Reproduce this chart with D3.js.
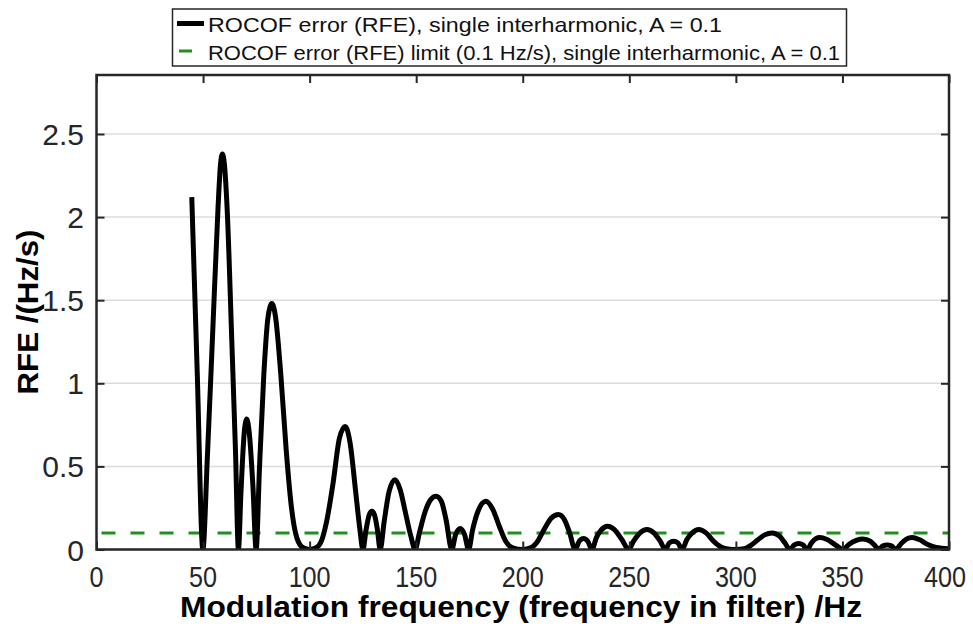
<!DOCTYPE html>
<html>
<head>
<meta charset="utf-8">
<script src="https://cdn.jsdelivr.net/npm/d3@7"></script>
<style>
  body { margin: 0; background: #fff; }
  svg { display: block; font-family: "Liberation Sans", Arial, sans-serif; }
</style>
</head>
<body>
<svg id="chart" width="973" height="633"></svg>
<script>
// values
const rfeFreq = [44.7, 47.3, 49.9, 52, 54.5, 57, 58.2, 59.1, 60, 61.3, 63.5, 65.2, 66.6,
  67.8, 69.3, 70.5, 71.7, 73.4, 74.9, 76.5, 78.5, 80.5, 82.3, 84, 86.5, 89, 91.5, 94, 97,
  100, 103, 105.5, 108, 111, 114, 116.7, 119, 121.5, 123.5, 125, 126.5, 128, 129.2, 130.4,
  131.8, 133.1, 135, 137.3, 140.1, 142.5, 145, 147.5, 149.5, 151.5, 154, 156.8, 159.3,
  161.8, 164, 166.7, 168.5, 170.7, 172.7, 174.6, 176.5, 179, 182.7, 186, 189, 192, 195,
  200, 204, 207, 210, 213.5, 216.8, 219.5, 222, 224.6, 226.5, 228.5, 230.5, 232.5, 234.5,
  237, 239.8, 243, 246.5, 249.7, 252, 255, 258.3, 261.5, 264.5, 266.9, 268.8, 270.8, 272.8,
  274.8, 277, 279.5, 282.6, 286, 289.5, 293, 297, 300, 304, 307, 310, 313.5, 317, 320.5,
  323, 325.3, 327.4, 329.5, 331.5, 333.4, 335.5, 337.5, 339.4, 342.5, 346.5, 350.3, 353,
  356.5, 359.7, 363, 365.5, 367, 369, 371, 373, 375, 377.5, 380, 382.7, 386, 390, 394, 400];
const rfeValue = [2.12, 1.05, 0, 0.55, 1.3, 2.05, 2.32, 2.38, 2.32, 2.05, 1.25, 0.6, 0,
  0.35, 0.7, 0.785, 0.7, 0.38, 0, 0.5, 1.05, 1.4, 1.48, 1.4, 1.05, 0.6, 0.25, 0.07, 0.01,
  0, 0.01, 0.05, 0.17, 0.4, 0.67, 0.74, 0.64, 0.36, 0.13, 0, 0.12, 0.21, 0.23, 0.21,
  0.12, 0, 0.17, 0.35, 0.42, 0.36, 0.22, 0.08, 0, 0.1, 0.22, 0.3, 0.32,
  0.29, 0.18, 0, 0.09, 0.126, 0.09, 0, 0.12, 0.23, 0.29, 0.24, 0.14, 0.05, 0.012,
  0, 0.012, 0.05, 0.12, 0.19, 0.21, 0.18, 0.1, 0, 0.05, 0.066, 0.05, 0, 0.07,
  0.12, 0.14, 0.12, 0.06, 0, 0.05, 0.1, 0.12, 0.1, 0.05, 0, 0.04, 0.05, 0.04,
  0, 0.06, 0.1, 0.12, 0.1, 0.05, 0.015, 0.002, 0, 0.005, 0.025, 0.055, 0.088, 0.1, 0.08,
  0.04, 0, 0.028, 0.036, 0.028, 0, 0.04, 0.065, 0.072, 0.062, 0.03, 0, 0.03,
  0.055, 0.063, 0.05, 0.02, 0, 0.022, 0.027, 0.022, 0, 0.035, 0.062, 0.072, 0.06, 0.03, 0.012, 0.005];
const rfeLimit = 0.1;
const xTicks = [0, 50, 100, 150, 200, 250, 300, 350, 400];
const yTicks = [0, 0.5, 1, 1.5, 2, 2.5];
const legendLabels = ["ROCOF error (RFE), single interharmonic, A = 0.1",
  "ROCOF error (RFE) limit (0.1 Hz/s), single interharmonic, A = 0.1"];
const xLabel = "Modulation frequency (frequency in filter) /Hz";
const yLabel = "RFE /(Hz/s)";

const svg = d3.select("#chart");
const box = { left: 96.5, right: 949, top: 75, bottom: 549.5 };

const x = d3.scaleLinear().domain([0, 400]).range([box.left, box.right]);
const y = d3.scaleLinear().domain([0, 2.855]).range([box.bottom, box.top]);

// horizontal grid
svg.append("g")
  .selectAll("line")
  .data(yTicks.filter(d => d > 0))
  .join("line")
  .attr("x1", box.left).attr("x2", box.right)
  .attr("y1", d => y(d)).attr("y2", d => y(d))
  .attr("stroke", "#dcdcdc").attr("stroke-width", 1.5);

// clip for the curves
svg.append("clipPath").attr("id", "plotClip")
  .append("rect")
  .attr("x", box.left).attr("y", box.top)
  .attr("width", box.right - box.left).attr("height", box.bottom - box.top);

const plot = svg.append("g").attr("clip-path", "url(#plotClip)");

// limit line
plot.append("line")
  .attr("x1", x(0)).attr("x2", x(400))
  .attr("y1", y(rfeLimit)).attr("y2", y(rfeLimit))
  .attr("stroke", "#1f8f1f").attr("stroke-width", 3)
  .attr("stroke-dasharray", "14,15")
  .attr("stroke-dashoffset", -5);

const pts = rfeFreq.map((f, i) => [f, rfeValue[i]]);
const line = d3.line()
  .x(d => x(d[0]))
  .y(d => y(d[1]))
  .curve(d3.curveMonotoneX);

plot.append("path")
  .datum(pts)
  .attr("d", line)
  .attr("fill", "none")
  .attr("stroke", "#000")
  .attr("stroke-width", 5)
  .attr("stroke-linejoin", "round");

// axes, MATLAB style: inward ticks on all 4 sides
const xAxisB = d3.axisBottom(x).tickValues(xTicks).tickSizeInner(-8).tickSizeOuter(0).tickFormat("");
const xAxisT = d3.axisTop(x).tickValues(xTicks).tickSizeInner(-8).tickSizeOuter(0).tickFormat("");
const yAxisL = d3.axisLeft(y).tickValues(yTicks).tickSizeInner(-8).tickSizeOuter(0).tickFormat("");
const yAxisR = d3.axisRight(y).tickValues(yTicks).tickSizeInner(-8).tickSizeOuter(0).tickFormat("");

function styleAxis(g) {
  g.select(".domain").remove();
  g.selectAll("line").attr("stroke", "#262626").attr("stroke-width", 2);
}
svg.append("g").attr("transform", `translate(0,${box.bottom})`).call(xAxisB).call(styleAxis);
svg.append("g").attr("transform", `translate(0,${box.top})`).call(xAxisT).call(styleAxis);
svg.append("g").attr("transform", `translate(${box.left},0)`).call(yAxisL).call(styleAxis);
svg.append("g").attr("transform", `translate(${box.right},0)`).call(yAxisR).call(styleAxis);

svg.append("rect")
  .attr("x", box.left).attr("y", box.top)
  .attr("width", box.right - box.left).attr("height", box.bottom - box.top)
  .attr("fill", "none").attr("stroke", "#262626").attr("stroke-width", 2.5);

// tick labels (reference digits are a little narrow); last one kept inside the page
svg.append("g")
  .selectAll("text")
  .data(xTicks)
  .join("text")
  .attr("x", d => Math.min(x(d), 945))
  .attr("y", 587)
  .attr("text-anchor", "middle")
  .attr("font-size", 29)
  .attr("fill", "#262626")
  .attr("textLength", d => String(d).length * 14)
  .attr("lengthAdjust", "spacingAndGlyphs")
  .text(d => d);

svg.append("g")
  .selectAll("text")
  .data(yTicks)
  .join("text")
  .attr("x", 84)
  .attr("y", d => y(d) + 11)
  .attr("text-anchor", "end")
  .attr("font-size", 30)
  .attr("fill", "#262626")
  .text(d => d);

// axis titles
svg.append("text")
  .attr("x", 521).attr("y", 617)
  .attr("text-anchor", "middle")
  .attr("font-size", 29).attr("font-weight", "bold")
  .attr("textLength", 682).attr("lengthAdjust", "spacingAndGlyphs")
  .text(xLabel);

svg.append("text")
  .attr("transform", "translate(38,312) rotate(-90)")
  .attr("text-anchor", "middle")
  .attr("font-size", 29).attr("font-weight", "bold")
  .attr("textLength", 165).attr("lengthAdjust", "spacingAndGlyphs")
  .text(yLabel);

// legend
const leg = svg.append("g");
leg.append("rect")
  .attr("x", 172.5).attr("y", 9)
  .attr("width", 674).attr("height", 57)
  .attr("fill", "#fff").attr("stroke", "#262626").attr("stroke-width", 1.5);
leg.append("line")
  .attr("x1", 177).attr("x2", 204).attr("y1", 23.5).attr("y2", 23.5)
  .attr("stroke", "#000").attr("stroke-width", 5);
leg.append("line")
  .attr("x1", 179).attr("x2", 192).attr("y1", 51).attr("y2", 51)
  .attr("stroke", "#1f8f1f").attr("stroke-width", 3);
const legWidths = [514, 632];
leg.selectAll("text.lab")
  .data(legendLabels)
  .join("text")
  .attr("class", "lab")
  .attr("x", 208)
  .attr("y", (d, i) => 32 + i * 27.5)
  .attr("font-size", 21)
  .attr("fill", "#111")
  .attr("textLength", (d, i) => legWidths[i])
  .attr("lengthAdjust", "spacingAndGlyphs")
  .text(d => d);
</script>
</body>
</html>
